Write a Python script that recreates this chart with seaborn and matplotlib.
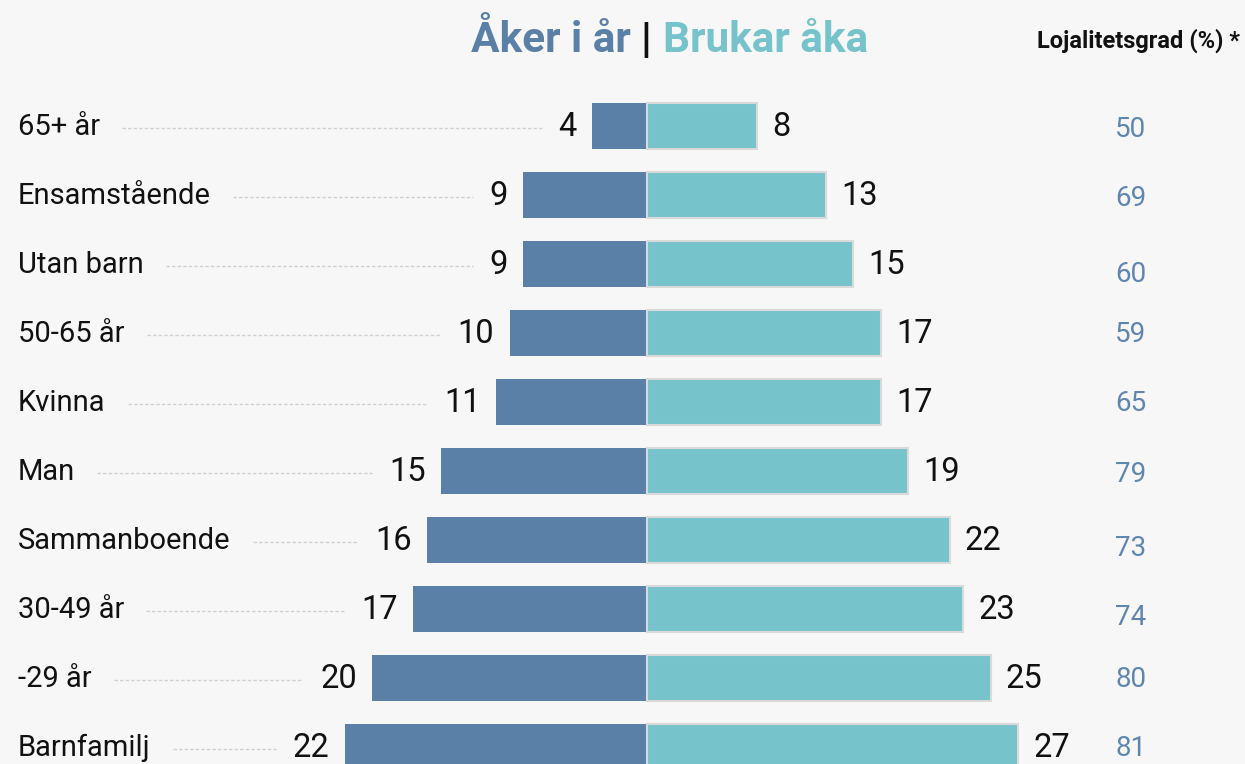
import numpy as np
import pandas as pd
import matplotlib
matplotlib.use("Agg")
import matplotlib.pyplot as plt
import seaborn as sns

categories = ["65+ år", "Ensamstående", "Utan barn", "50-65 år", "Kvinna",
              "Man", "Sammanboende", "30-49 år", "-29 år", "Barnfamilj"]
aker_i_ar = [4, 9, 9, 10, 11, 15, 16, 17, 20, 22]
brukar_aka = [8, 13, 15, 17, 17, 19, 22, 23, 25, 27]
lojalitet = [50, 69, 60, 59, 65, 79, 73, 74, 80, 81]

# small vertical nudges (px) of the loyalty column, as in the original layout
loy_dy = [2, 2, 9, 0, 0, 2, 7, 7, 0, 0]

BG = "#f7f7f7"
C_LEFT = "#5a80a8"
C_RIGHT = "#76c3cb"
C_LOY = "#5f86b0"

sns.set_theme(style="white")
plt.rcParams["font.family"] = ["Roboto", "DejaVu Sans"]

W, H = 1245, 764
fig = plt.figure(figsize=(W / 100, H / 100), dpi=100, facecolor=BG)
ax = fig.add_axes([0, 0, 1, 1])
ax.set_facecolor(BG)

# pixel layout helpers
CX, PXU = 647, 13.75      # centre x in px, px per unit
ROW0, ROWH = 126, 69      # first row centre, row spacing


def px2x(px):
    return (px - CX) / PXU


df = pd.DataFrame({"cat": categories, "left": [-v for v in aker_i_ar], "right": brukar_aka})

sns.barplot(data=df, x="left", y="cat", orient="h", color=C_LEFT, width=0.67,
            saturation=1, linewidth=0, ax=ax)
sns.barplot(data=df, x="right", y="cat", orient="h", color=C_RIGHT, width=0.67,
            saturation=1, linewidth=1.5, edgecolor="#dadada", ax=ax)

ax.set_xlim(px2x(0), px2x(W))
ax.set_ylim((H - ROW0) / ROWH, -ROW0 / ROWH)
ax.set_axis_off()

# texts
lab_texts, val_texts = [], []
for i, cat in enumerate(categories):
    lab_texts.append(ax.text(px2x(18), i + 0.02, cat, ha="left", va="center",
                             fontsize=21, color="#111111"))
    val_texts.append(ax.text(-aker_i_ar[i] - 1.1, i + 0.02, str(aker_i_ar[i]),
                             ha="right", va="center", fontsize=23.5, color="#111111"))
    ax.text(brukar_aka[i] + 1.1, i + 0.02, str(brukar_aka[i]), ha="left", va="center",
            fontsize=23.5, color="#111111")
    ax.text(px2x(1131), i + 0.02 + loy_dy[i] / ROWH, str(lojalitet[i]), ha="center",
            va="center", fontsize=20, color=C_LOY)

# title pieces
ty = -1.24
ax.text(px2x(631), ty, "Åker i år", ha="right", va="center", fontsize=30.5,
        fontweight="bold", color=C_LEFT)
ax.text(px2x(646), ty, "|", ha="center", va="center", fontsize=30.5,
        fontweight="bold", color="#111111")
ax.text(px2x(663), ty, "Brukar åka", ha="left", va="center", fontsize=30.5,
        fontweight="bold", color=C_RIGHT)
ax.text(px2x(1240), ty, "Lojalitetsgrad (%) *", ha="right", va="center",
        fontsize=17, fontweight="bold", color="#111111")

# dashed leader lines between label and value
fig.canvas.draw()
renderer = fig.canvas.get_renderer()
for i in range(len(categories)):
    x_start = lab_texts[i].get_window_extent(renderer).x1 + 22
    x_end = val_texts[i].get_window_extent(renderer).x0 - 17
    ax.plot([px2x(x_start), px2x(x_end)], [i + 0.03, i + 0.03], color="#d0d0d0",
            linewidth=1.0, linestyle=(0, (2.5, 1.5)), zorder=0)

fig.savefig("out.png", dpi=100, facecolor=BG)
